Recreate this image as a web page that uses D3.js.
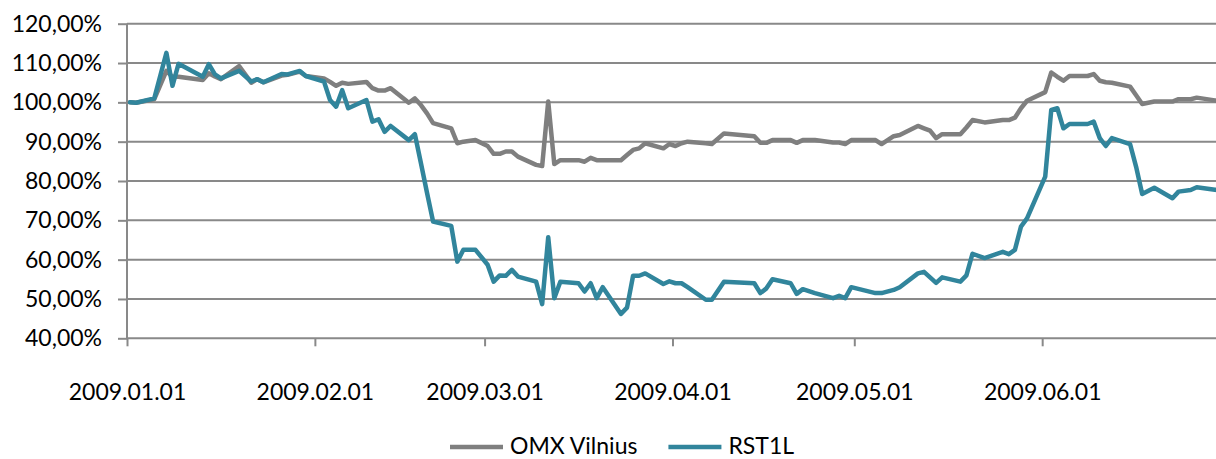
<!DOCTYPE html>
<html>
<head>
<meta charset="utf-8">
<script src="https://d3js.org/d3.v7.min.js"></script>
<style>
    body { margin: 0; background: #fff; }
    #chart text { font-family: Lato, "Open Sans", sans-serif; font-size: 23px; fill: #000; }
</style>
</head>
<body>
<div id="chart"></div>
<script>
//  Define width and height
var chart_width     =   1216;
var chart_height    =   459;

// Data, trading days 2009
var dates = [
    "2009-01-01","2009-01-02","2009-01-05","2009-01-07","2009-01-08","2009-01-09","2009-01-13","2009-01-14",
    "2009-01-15","2009-01-16","2009-01-19","2009-01-21","2009-01-22","2009-01-23","2009-01-26","2009-01-27",
    "2009-01-29","2009-01-30","2009-02-02","2009-02-03","2009-02-04","2009-02-05","2009-02-06","2009-02-09",
    "2009-02-10","2009-02-11","2009-02-12","2009-02-13","2009-02-16","2009-02-17","2009-02-18","2009-02-19",
    "2009-02-20","2009-02-23","2009-02-24","2009-02-25","2009-02-27","2009-03-01","2009-03-02","2009-03-03",
    "2009-03-04","2009-03-05","2009-03-06","2009-03-09","2009-03-10","2009-03-11","2009-03-12","2009-03-13",
    "2009-03-16","2009-03-17","2009-03-18","2009-03-19","2009-03-20","2009-03-23","2009-03-24","2009-03-25",
    "2009-03-26","2009-03-27","2009-03-30","2009-03-31","2009-04-01","2009-04-02","2009-04-03","2009-04-06",
    "2009-04-07","2009-04-09","2009-04-14","2009-04-15","2009-04-16","2009-04-17","2009-04-20","2009-04-21",
    "2009-04-22","2009-04-24","2009-04-27","2009-04-28","2009-04-29","2009-04-30","2009-05-04","2009-05-05",
    "2009-05-07","2009-05-08","2009-05-11","2009-05-12","2009-05-13","2009-05-14","2009-05-15","2009-05-18",
    "2009-05-19","2009-05-20","2009-05-22","2009-05-25","2009-05-26","2009-05-27","2009-05-28","2009-05-29",
    "2009-06-01","2009-06-02","2009-06-03","2009-06-04","2009-06-05","2009-06-08","2009-06-09","2009-06-10",
    "2009-06-11","2009-06-12","2009-06-15","2009-06-16","2009-06-17","2009-06-19","2009-06-22","2009-06-23",
    "2009-06-25","2009-06-26","2009-06-29","2009-06-30"
];

var omx_values = [
    100.0, 99.9, 100.8, 108.0, 106.5, 106.5, 105.7, 107.4,
    106.6, 105.9, 109.2, 105.0, 105.9, 105.1, 106.8, 107.0,
    107.8, 106.7, 106.1, 105.2, 104.2, 105.0, 104.7, 105.2,
    103.6, 103.0, 103.0, 103.6, 99.9, 101.0, 99.3, 97.2,
    94.7, 93.4, 89.6, 90.0, 90.4, 88.9, 86.9, 86.9,
    87.5, 87.5, 86.2, 84.1, 83.8, 100.2, 84.3, 85.3,
    85.3, 84.9, 85.9, 85.3, 85.3, 85.3, 86.6, 87.9,
    88.3, 89.6, 88.3, 89.4, 88.9, 89.6, 90.0, 89.6,
    89.4, 92.1, 91.4, 89.7, 89.7, 90.4, 90.4, 89.7,
    90.4, 90.4, 89.8, 89.8, 89.4, 90.4, 90.4, 89.4,
    91.4, 91.7, 94.0, 93.4, 92.8, 90.9, 91.9, 91.9,
    93.6, 95.5, 94.9, 95.5, 95.5, 96.1, 98.5, 100.4,
    102.6, 107.6, 106.5, 105.5, 106.7, 106.7, 107.2, 105.5,
    105.1, 105.0, 104.0, 101.8, 99.6, 100.2, 100.2, 100.8,
    100.8, 101.2, 100.5, 100.3
];

var rst_values = [
    100.0, 99.9, 101.0, 112.6, 104.2, 109.8, 106.5, 109.7,
    107.1, 106.1, 108.0, 105.3, 105.9, 105.1, 107.2, 107.1,
    108.0, 106.7, 105.3, 100.6, 98.9, 103.1, 98.5, 100.6,
    95.1, 95.7, 92.5, 94.0, 90.4, 91.9, 84.5, 77.0,
    69.7, 68.6, 59.5, 62.5, 62.5, 58.7, 54.4, 56.0,
    55.9, 57.4, 55.7, 54.4, 48.7, 65.7, 50.2, 54.4,
    54.0, 51.9, 54.0, 50.2, 53.0, 46.2, 47.8, 55.9,
    55.9, 56.5, 53.8, 54.5, 54.0, 54.0, 53.0, 49.8,
    49.8, 54.4, 54.0, 51.5, 52.7, 55.0, 54.0, 51.3,
    52.5, 51.5, 50.2, 50.8, 50.2, 53.0, 51.5, 51.5,
    52.3, 53.0, 56.5, 56.9, 55.5, 54.1, 55.5, 54.4,
    56.0, 61.5, 60.4, 62.0, 61.4, 62.5, 68.4, 70.5,
    81.1, 98.1, 98.5, 93.4, 94.5, 94.5, 95.1, 90.9,
    88.9, 90.9, 89.4, 83.6, 76.7, 78.3, 75.6, 77.3,
    77.7, 78.4, 77.8, 77.5
];

var y_ticks         =   [40, 50, 60, 70, 80, 90, 100, 110, 120];
var x_ticks         =   ["2009.01.01", "2009.02.01", "2009.03.01", "2009.04.01", "2009.05.01", "2009.06.01"];
var series_names    =   ["OMX Vilnius", "RST1L"];
var series_colors   =   ["#7f7f7f", "#31859c"];


var parse_date      =   d3.utcParse("%Y-%m-%d");
var parse_tick      =   d3.utcParse("%Y.%m.%d");
var half_day        =   12 * 3600 * 1000;

var series = [omx_values, rst_values].map(function(values, i){
    return {
        name:   series_names[i],
        color:  series_colors[i],
        points: dates.map(function(d, j){
            return { date: parse_date(d), value: values[j] };
        })
    };
});


// Scales
var x = d3.scaleUtc()
    .domain([ parse_date("2009-01-01"), parse_date("2009-07-01") ])
    .range([ 127, 1224 ]);

var y = d3.scaleLinear()
    .domain([ 40, 120 ])
    .range([ 338.3, 23.7 ]);


// Create SVG
var svg = d3.select("#chart")
    .append("svg")
    .attr("width", chart_width)
    .attr("height", chart_height);


// Gridlines
svg.append("g")
    .selectAll("line")
    .data(y_ticks.slice(1))
    .enter().append("line")
    .attr("x1", x.range()[0])
    .attr("x2", x.range()[1])
    .attr("y1", d => y(d))
    .attr("y2", d => y(d))
    .attr("stroke", "#898989")
    .attr("stroke-width", 2);


// Y axis
var y_axis = svg.append("g")
    .attr("transform", "translate(" + x.range()[0] + ",0)")
    .call(d3.axisLeft(y)
        .tickValues(y_ticks)
        .tickSize(9)
        .tickPadding(16)
        .tickFormat(d => d3.format(".2f")(d).replace(".", ",") + "%"));

y_axis.select(".domain").remove();
y_axis.selectAll("line").attr("stroke", "#898989").attr("stroke-width", 2);
y_axis.selectAll("text").attr("font-size", null).attr("font-family", null);

svg.append("line")
    .attr("x1", x.range()[0])
    .attr("x2", x.range()[0])
    .attr("y1", y.range()[1])
    .attr("y2", y.range()[0])
    .attr("stroke", "#898989")
    .attr("stroke-width", 2);


// X axis
var x_axis = svg.append("g")
    .attr("transform", "translate(0," + y.range()[0] + ")")
    .call(d3.axisBottom(x)
        .tickValues(x_ticks.map(parse_tick))
        .tickSize(8)
        .tickPadding(37)
        .tickFormat(d3.utcFormat("%Y.%m.%d")));

x_axis.select(".domain").remove();
x_axis.selectAll("line").attr("stroke", "#898989").attr("stroke-width", 2);
x_axis.selectAll("text").attr("font-size", null).attr("font-family", null);

svg.append("line")
    .attr("x1", x.range()[0])
    .attr("x2", x.range()[1])
    .attr("y1", y.range()[0])
    .attr("y2", y.range()[0])
    .attr("stroke", "#898989")
    .attr("stroke-width", 2);


// Lines
var line = d3.line()
    .x(d => x(new Date(d.date.getTime() + half_day)))
    .y(d => y(d.value));

svg.append("g")
    .selectAll("path")
    .data(series)
    .enter().append("path")
    .attr("d", d => line(d.points))
    .attr("fill", "none")
    .attr("stroke", d => d.color)
    .attr("stroke-width", 4.5)
    .attr("stroke-linejoin", "round")
    .attr("stroke-linecap", "round");


// Legend
var legend = svg.append("g")
    .attr("transform", "translate(450,447)");

var legend_x = 0;
series.forEach(function(s){
    var item = legend.append("g")
        .attr("transform", "translate(" + legend_x + ",0)");

    item.append("line")
        .attr("x1", 0)
        .attr("x2", 53)
        .attr("stroke", s.color)
        .attr("stroke-width", 4.5);

    var label = item.append("text")
        .attr("x", 60)
        .attr("y", 7)
        .text(s.name);

    legend_x += 60 + label.node().getComputedTextLength() + 31;
});
</script>
</body>
</html>
